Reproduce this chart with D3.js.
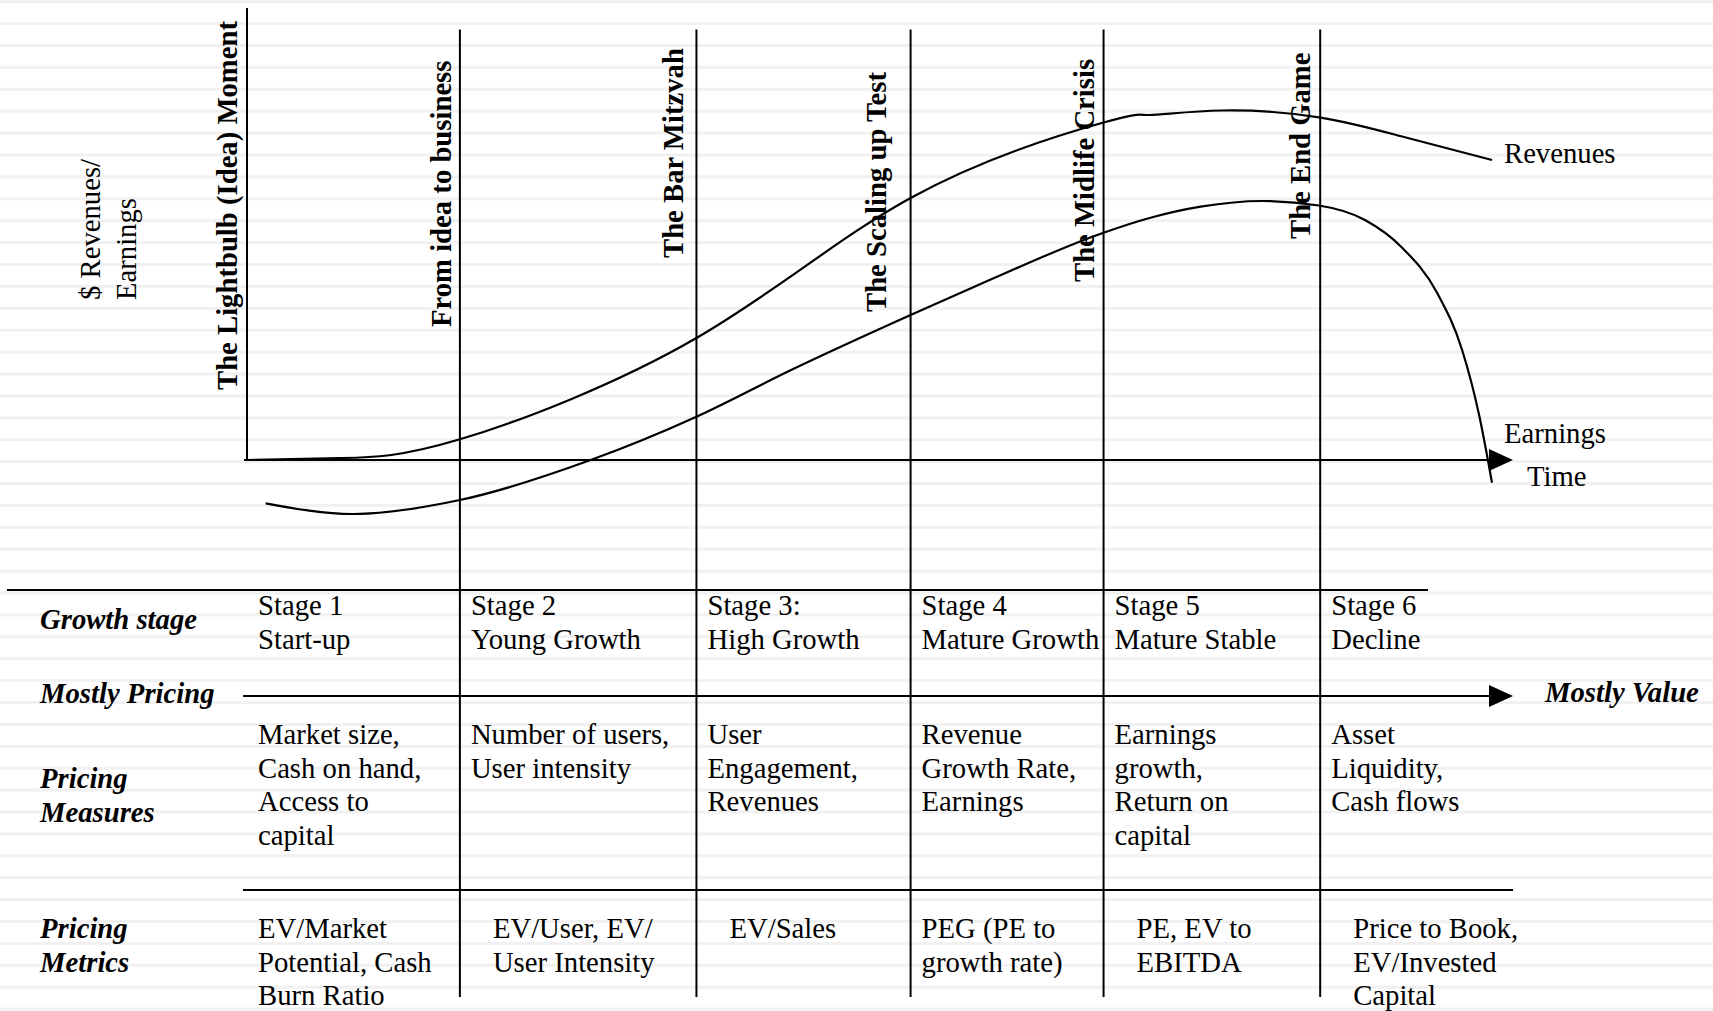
<!DOCTYPE html>
<html>
<head>
<meta charset="utf-8">
<script src="https://cdn.jsdelivr.net/npm/d3@7"></script>
<style>
  body { margin: 0; background: #fff; }
  svg { display: block; }
  text { font-family: "Liberation Serif", "Times New Roman", serif; fill: #000; font-size: 28.7px; }
</style>
</head>
<body>
<svg id="chart" width="1713" height="1011"></svg>
<script>
// Where each stage begins on the time axis (0 = idea, 10 = end of the curves)
const stageStarts = [0, 1.71, 3.61, 5.33, 6.88, 8.62];
const milestones = ["The Lightbulb (Idea) Moment", "From idea to business", "The Bar Mitzvah",
  "The Scaling up Test", "The Midlife Crisis", "The End Game"];

// Curves (time, value; 0 = the time axis)
const revenueTime  = [0, 0.75, 1.71, 3.61, 5.33, 6.88, 7.25, 7.83, 8.61, 9.27, 10];
const revenueValue = [0, 0.57, 5.91, 34.86, 74.86, 96.43, 98.57, 99.86, 97.91, 92.5, 85.71];
const earningsTime  = [0.15, 0.85, 1.71, 2.76, 3.61, 4.37, 5.33, 5.91, 6.88, 7.25, 7.66, 8.15, 8.61, 8.98, 9.27, 9.56, 9.76, 9.90, 10];
const earningsValue = [-12.37, -15.43, -11.43, 0, 12.37, 25.71, 41.43, 50.57, 64.94, 69.14, 72.37, 74, 72.71, 68.57, 60.94, 47.71, 31.43, 12.29, -6.49];

// Table rows
const rowLabels = [["Growth stage"], ["Mostly Pricing"], ["Pricing", "Measures"], ["Pricing", "Metrics"]];
const growthStages = [["Stage 1", "Start-up"], ["Stage 2", "Young Growth"], ["Stage 3:", "High Growth"],
  ["Stage 4", "Mature Growth"], ["Stage 5", "Mature Stable"], ["Stage 6", "Decline"]];
const pricingMeasures = [["Market size,", "Cash on hand,", "Access to", "capital"],
  ["Number of users,", "User intensity"], ["User", "Engagement,", "Revenues"],
  ["Revenue", "Growth Rate,", "Earnings"], ["Earnings", "growth,", "Return on", "capital"],
  ["Asset", "Liquidity,", "Cash flows"]];
const pricingMetrics = [["EV/Market", "Potential, Cash", "Burn Ratio"], ["EV/User, EV/", "User Intensity"],
  ["EV/Sales"], ["PEG (PE to", "growth rate)"], ["PE, EV to", "EBITDA"],
  ["Price to Book,", "EV/Invested", "Capital"]];
const mostlyValue = "Mostly Value";
const yTitle = ["$ Revenues/", "Earnings"];

const svg = d3.select("#chart");
const W = 1713, H = 1011;
const lh = 33.6;

// background stripes
svg.append("rect").attr("width", W).attr("height", H).attr("fill", "#fff");
svg.selectAll("rect.stripe")
  .data(d3.range(1.7, H, 21.9))
  .enter().append("rect")
    .attr("class", "stripe")
    .attr("x", 0).attr("width", W)
    .attr("y", d => d - 1.5).attr("height", 3)
    .attr("fill", "#f1f1f1");

const x = d3.scaleLinear().domain([0, 10]).range([247, 1492]);
const y = d3.scaleLinear().domain([0, 100]).range([460, 110]);

svg.append("defs").append("marker")
    .attr("id", "arrow")
    .attr("markerUnits", "userSpaceOnUse")
    .attr("markerWidth", 24).attr("markerHeight", 22)
    .attr("refX", 0).attr("refY", 11)
    .attr("orient", "auto")
  .append("path")
    .attr("d", "M0,0L24,11L0,22Z")
    .attr("fill", "#000");

const ink = svg.append("g").attr("stroke", "#000").attr("stroke-width", 2).attr("fill", "none");

// y axis (idea moment) and time axis
ink.append("line").attr("x1", x(0)).attr("x2", x(0)).attr("y1", 8).attr("y2", y(0));
ink.append("line").attr("x1", x(0) - 3).attr("x2", x(10) - 3).attr("y1", y(0)).attr("y2", y(0))
  .attr("marker-end", "url(#arrow)");

// stage dividers
ink.selectAll("line.stage")
  .data(stageStarts.slice(1))
  .enter().append("line")
    .attr("class", "stage")
    .attr("x1", d => x(d)).attr("x2", d => x(d))
    .attr("y1", 29.5).attr("y2", 997);

// table rules
ink.append("line").attr("x1", 7).attr("x2", 1428).attr("y1", 590).attr("y2", 590);
ink.append("line").attr("x1", 243).attr("x2", 1489).attr("y1", 696).attr("y2", 696)
  .attr("marker-end", "url(#arrow)");
ink.append("line").attr("x1", 243).attr("x2", 1513).attr("y1", 890).attr("y2", 890);

// curves
const smooth = d3.line()
  .x(d => x(d[0]))
  .y(d => y(d[1]))
  .curve(d3.curveNatural);
const steep = d3.line()
  .x(d => x(d[0]))
  .y(d => y(d[1]))
  .curve(d3.curveMonotoneX);

ink.append("path")
  .datum(d3.zip(revenueTime, revenueValue))
  .attr("stroke-width", 2.2)
  .attr("d", smooth);
ink.append("path")
  .datum(d3.zip(earningsTime, earningsValue))
  .attr("stroke-width", 2.2)
  .attr("d", steep);

// curve and axis labels
svg.append("text").attr("x", 1504).attr("y", 163).text("Revenues");
svg.append("text").attr("x", 1504).attr("y", 443).text("Earnings");
svg.append("text").attr("x", 1527).attr("y", 486).text("Time");

svg.selectAll("text.ytitle")
  .data(yTitle)
  .enter().append("text")
    .attr("class", "ytitle")
    .attr("transform", (d, i) => "translate(" + (100 + i * 36) + ",300) rotate(-90)")
    .text(d => d);

// milestone labels, rotated along each divider
const labelOffset = [-10, -9, -13, -25, -10, -10];
const labelBottom = [390, 327, 258, 312, 282, 239];
svg.selectAll("text.milestone")
  .data(milestones)
  .enter().append("text")
    .attr("class", "milestone")
    .attr("font-weight", "bold")
    .attr("font-size", 29)
    .attr("transform", (d, i) => "translate(" + (x(stageStarts[i]) + labelOffset[i]) + "," + labelBottom[i] + ") rotate(-90)")
    .text(d => d);

// row headers
const rowTop = [629, 703, 788, 938];
rowLabels.forEach((lines, r) => {
  const t = svg.append("text")
    .attr("x", 40)
    .attr("y", rowTop[r])
    .attr("font-weight", "bold")
    .attr("font-style", "italic");
  t.selectAll("tspan").data(lines).enter().append("tspan")
    .attr("x", 40)
    .attr("dy", (d, i) => i ? lh : 0)
    .text(d => d);
});

svg.append("text")
  .attr("x", 1545).attr("y", 702)
  .attr("font-weight", "bold")
  .attr("font-style", "italic")
  .text(mostlyValue);

// cells
const metricIndent = [0, 22, 22, 0, 22, 22];
function cells(rows, top, indent) {
  rows.forEach((lines, c) => {
    const cx = x(stageStarts[c]) + 11 + (indent ? indent[c] : 0);
    const t = svg.append("text").attr("x", cx).attr("y", top);
    t.selectAll("tspan").data(lines).enter().append("tspan")
      .attr("x", cx)
      .attr("dy", (d, i) => i ? lh : 0)
      .text(d => d);
  });
}
cells(growthStages, 615);
cells(pricingMeasures, 744);
cells(pricingMetrics, 938, metricIndent);
</script>
</body>
</html>
